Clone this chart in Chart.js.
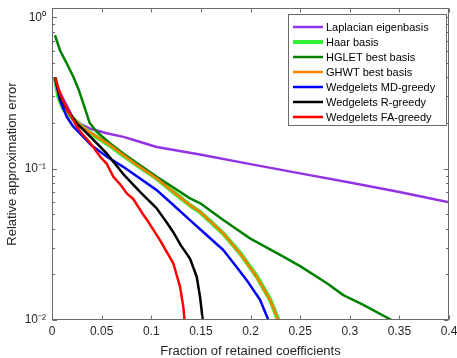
<!DOCTYPE html>
<html>
<head>
<meta charset="utf-8">
<script src="https://cdn.jsdelivr.net/npm/chart.js@4/dist/chart.umd.min.js"></script>
<style>html,body{margin:0;padding:0;background:#fff}canvas{display:block}</style>
</head>
<body>
<canvas id="c" width="457" height="358"></canvas>
<script>
// ---- data ----
const seriesNames = ['Laplacian eigenbasis','Haar basis','HGLET best basis','GHWT best basis','Wedgelets MD-greedy','Wedgelets R-greedy','Wedgelets FA-greedy'];
const seriesColors = ['#9333E6','#33F033','#008000','#FF8000','#0000FF','#000000','#FF0000'];
const seriesWidths = [2.5,4.5,2.5,2.5,2.5,2.5,2.5];

const lapX = [0.004,0.0064,0.01,0.015,0.0215,0.03,0.038,0.055,0.072,0.089,0.1055,0.149,0.2,0.25,0.3,0.35,0.4];
const lapY = [0.37,0.338,0.30,0.26,0.214,0.195,0.184,0.171,0.162,0.150,0.139,0.124,0.107,0.093,0.081,0.070,0.060];

const haarX = [0.003,0.0064,0.0114,0.016,0.0215,0.03,0.038,0.048,0.0584,0.0718,0.088,0.1055,0.12,0.139,0.149,0.16,0.1726,0.1894,0.2063,0.2196,0.228];
const haarY = [0.40,0.30,0.25,0.232,0.212,0.189,0.173,0.157,0.142,0.122,0.103,0.086,0.072,0.0572,0.0518,0.0445,0.0372,0.0277,0.0194,0.0137,0.01];

const hgletX = [0.003,0.008,0.0148,0.0215,0.027,0.0316,0.038,0.045,0.0584,0.0718,0.088,0.1055,0.12,0.139,0.149,0.1726,0.1995,0.233,0.25,0.277,0.2935,0.3137,0.342];
const hgletY = [0.76,0.605,0.495,0.404,0.33,0.269,0.20,0.175,0.147,0.126,0.106,0.0883,0.0767,0.0636,0.0592,0.0457,0.0346,0.0262,0.0227,0.0175,0.0146,0.0126,0.01];

const ghwtX = [0.003,0.0064,0.0114,0.016,0.0215,0.03,0.038,0.048,0.0584,0.0718,0.088,0.1055,0.12,0.139,0.149,0.16,0.1726,0.1894,0.2063,0.2196,0.228];
const ghwtY = [0.40,0.31,0.256,0.235,0.214,0.19,0.174,0.158,0.143,0.123,0.103,0.086,0.072,0.0574,0.0519,0.0445,0.0373,0.0276,0.0193,0.0136,0.01];

const mdX = [0.003,0.008,0.0148,0.0215,0.0316,0.04,0.0551,0.0718,0.088,0.1055,0.122,0.139,0.156,0.1726,0.185,0.196,0.2096,0.218];
const mdY = [0.40,0.283,0.22,0.189,0.162,0.142,0.12,0.1027,0.0867,0.0721,0.0577,0.0457,0.0363,0.029,0.0228,0.0184,0.0136,0.01];

const rX = [0.003,0.008,0.013,0.018,0.025,0.03,0.038,0.046,0.055,0.0718,0.0887,0.1055,0.1156,0.1222,0.13,0.139,0.1458,0.1491,0.1505,0.1518];
const rY = [0.40,0.298,0.26,0.231,0.199,0.185,0.164,0.145,0.126,0.092,0.0703,0.0546,0.044,0.038,0.031,0.0255,0.0193,0.0143,0.012,0.01];

const faX = [0.003,0.008,0.013,0.018,0.025,0.031,0.038,0.0484,0.055,0.0618,0.0685,0.0753,0.0819,0.092,0.097,0.1088,0.1222,0.129,0.1323,0.1335];
const faY = [0.40,0.313,0.265,0.231,0.189,0.168,0.149,0.12,0.108,0.0883,0.079,0.0686,0.063,0.0495,0.0445,0.0337,0.0237,0.0166,0.0122,0.01];

const xTicks = [0,0.05,0.1,0.15,0.2,0.25,0.3,0.35,0.4];
const xTickLabels = ['0','0.05','0.1','0.15','0.2','0.25','0.3','0.35','0.4'];
const yMajorTicks = [0.01,0.1,1];
const yTickLabels = ['10\u207B\u00B2','10\u207B\u00B9','10\u2070'];
const yMinorTicks = [0.02,0.03,0.04,0.05,0.06,0.07,0.08,0.09,0.2,0.3,0.4,0.5,0.6,0.7,0.8,0.9];

const xTitle = 'Fraction of retained coefficients';
const yTitle = 'Relative approximation error';

// ---- build ----
const seriesX = [lapX,haarX,hgletX,ghwtX,mdX,rX,faX];
const seriesY = [lapY,haarY,hgletY,ghwtY,mdY,rY,faY];
const FONT = '"Liberation Sans", Arial, Helvetica, sans-serif';
const axisColor = '#6b6b6b';
const textColor = '#262626';

const datasets = seriesNames.map((name,i)=>({
  label: name,
  data: seriesX[i].map((v,j)=>({x:v,y:seriesY[i][j]})),
  borderColor: seriesColors[i],
  backgroundColor: seriesColors[i],
  borderWidth: seriesWidths[i],
  pointRadius: 0,
  tension: 0,
  fill: false,
  order: seriesNames.length - i,
  borderJoinStyle: 'round',
  borderCapStyle: 'butt'
}));

const axesBox = {
  id: 'axesBox',
  afterDatasetsDraw(chart){
    const {ctx, chartArea:a, scales:{x,y}} = chart;
    ctx.save();
    ctx.strokeStyle = axisColor;
    ctx.lineWidth = 1;
    ctx.beginPath();
    const L = Math.round(a.left)+0.5, R = Math.round(a.right)-0.5, T = Math.round(a.top)+0.5, B = Math.round(a.bottom)-0.5;
    xTicks.forEach(v=>{
      const px = Math.round(x.getPixelForValue(v))+0.5;
      ctx.moveTo(px,B); ctx.lineTo(px,B-4);
      ctx.moveTo(px,T); ctx.lineTo(px,T+4);
    });
    yMajorTicks.forEach(v=>{
      const py = Math.round(y.getPixelForValue(v))+0.5;
      ctx.moveTo(L,py); ctx.lineTo(L+4.5,py);
      ctx.moveTo(R,py); ctx.lineTo(R-4.5,py);
    });
    yMinorTicks.forEach(v=>{
      const py = Math.round(y.getPixelForValue(v))+0.5;
      ctx.moveTo(L,py); ctx.lineTo(L+2.5,py);
      ctx.moveTo(R,py); ctx.lineTo(R-2.5,py);
    });
    ctx.stroke();
    ctx.strokeRect(L,T,R-L,B-T);
    ctx.restore();
  }
};

const boxLegend = {
  id: 'boxLegend',
  afterDraw(chart){
    const {ctx, chartArea:a} = chart;
    const bx = a.right - 161, by = a.top + 6, bw = 158, rowH = 15, bh = rowH*seriesNames.length + 6;
    ctx.save();
    ctx.fillStyle = '#fff';
    ctx.fillRect(bx,by,bw,bh);
    ctx.strokeStyle = axisColor;
    ctx.lineWidth = 1;
    ctx.strokeRect(Math.round(bx)+0.5,Math.round(by)+0.5,bw,bh);
    ctx.font = '11px ' + FONT;
    ctx.textBaseline = 'middle';
    ctx.textAlign = 'left';
    chart.data.datasets.forEach((ds,i)=>{
      const yy = by + 13 + i*rowH;
      ctx.beginPath();
      ctx.strokeStyle = ds.borderColor;
      ctx.lineWidth = ds.borderWidth === 4.5 ? 4 : 2.5;
      ctx.moveTo(bx+5,yy); ctx.lineTo(bx+35,yy);
      ctx.stroke();
      ctx.fillStyle = '#000';
      ctx.fillText(ds.label, bx+38, yy+0.5);
    });
    ctx.restore();
  }
};

new Chart(document.getElementById('c'), {
  type: 'line',
  data: { datasets },
  plugins: [axesBox, boxLegend],
  options: {
    responsive: false,
    animation: false,
    layout: { padding: { left: 0, right: 8, top: 8, bottom: 0 } },
    plugins: { legend: { display: false }, tooltip: { enabled: false } },
    scales: {
      x: {
        type: 'linear', min: 0, max: 0.4,
        grid: { display: false, drawTicks: false },
        border: { display: false },
        afterBuildTicks: s => { s.ticks = xTicks.map(v=>({value:v})); },
        afterFit: s => { s.height = 38; s.paddingLeft = 0; s.paddingRight = 0; },
        ticks: { autoSkip: false, maxRotation: 0, padding: 4, color: textColor,
                 font: { family: FONT, size: 12 },
                 callback: (v,i) => xTickLabels[i] },
        title: { display: true, text: xTitle, color: textColor,
                 font: { family: FONT, size: 13, lineHeight: 1.0 }, padding: { top: 0, bottom: 0 } }
      },
      y: {
        type: 'logarithmic', min: 0.01, max: 1.15,
        grid: { display: false, drawTicks: false },
        border: { display: false },
        afterBuildTicks: s => { s.ticks = yMajorTicks.map(v=>({value:v})); },
        afterFit: s => { s.width = 52; s.paddingTop = 0; s.paddingBottom = 0; },
        ticks: { autoSkip: false, padding: 6, color: textColor,
                 font: { family: FONT, size: 12 },
                 callback: (v,i) => yTickLabels[i] },
        title: { display: true, text: yTitle, color: textColor,
                 font: { family: FONT, size: 13, lineHeight: 1.0 }, padding: { top: 6, bottom: 0 } }
      }
    }
  }
});
</script>
</body>
</html>
